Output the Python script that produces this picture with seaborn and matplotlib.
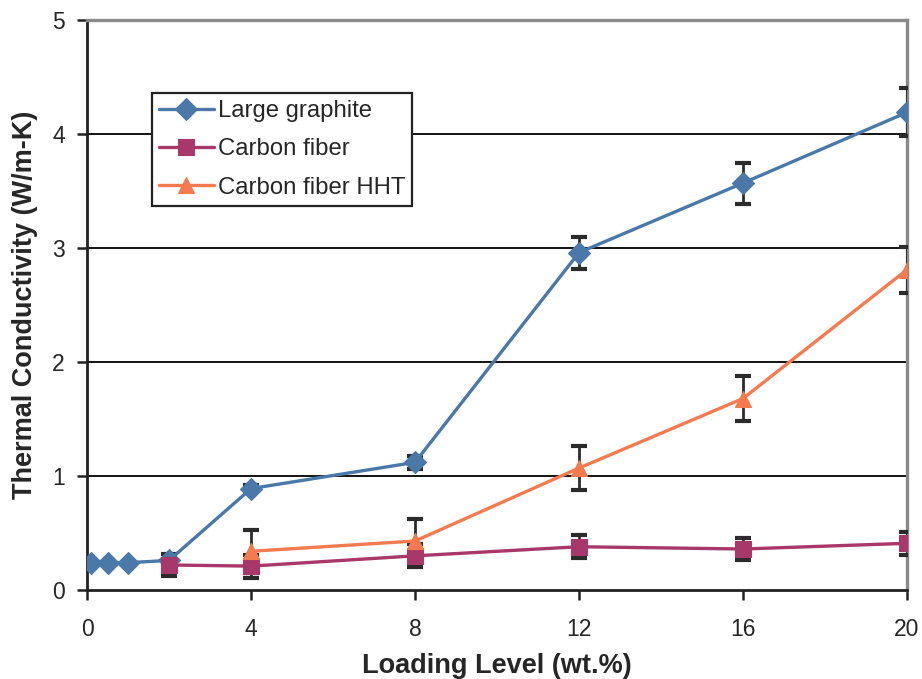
import matplotlib
matplotlib.use("Agg")
import matplotlib.pyplot as plt
import seaborn as sns
import pandas as pd

# Loading levels (wt.%) and measured thermal conductivity (W/m-K)
graphite_x = [0.1, 0.5, 1, 2, 4, 8, 12, 16, 20]
graphite_y = [0.24, 0.24, 0.24, 0.26, 0.89, 1.12, 2.96, 3.57, 4.19]
graphite_err = [0.0, 0.0, 0.0, 0.0, 0.03, 0.06, 0.14, 0.18, 0.21]

fiber_x = [2, 4, 8, 12, 16, 20]
fiber_y = [0.22, 0.21, 0.30, 0.38, 0.36, 0.41]
fiber_err = [0.10, 0.10, 0.10, 0.10, 0.10, 0.10]

hht_x = [4, 8, 12, 16, 20]
hht_y = [0.34, 0.43, 1.07, 1.68, 2.81]
hht_err = [0.19, 0.19, 0.19, 0.20, 0.20]

labels = ["Large graphite", "Carbon fiber", "Carbon fiber HHT"]
colors = ["#4A78A8", "#A8386A", "#F47A50"]
markers = ["D", "s", "^"]

frames = []
for lab, xs, ys, es in [(labels[0], graphite_x, graphite_y, graphite_err),
                        (labels[1], fiber_x, fiber_y, fiber_err),
                        (labels[2], hht_x, hht_y, hht_err)]:
    frames.append(pd.DataFrame({"load": xs, "k": ys, "err": es, "series": lab}))
df = pd.concat(frames, ignore_index=True)

sns.set_style("white")
plt.rcParams["font.family"] = ["Liberation Sans", "DejaVu Sans"]

fig = plt.figure(figsize=(9.22, 6.79), dpi=100)
ax = fig.add_axes([0.0944, 0.131, 0.8893, 0.8395])

# error bars underneath the markers
for lab in labels:
    sub = df[df["series"] == lab]
    sub = sub[sub["err"] > 0]
    ax.errorbar(sub["load"], sub["k"], yerr=sub["err"], fmt="none",
                ecolor="#2b2b2b", elinewidth=2.0, capsize=5.5, capthick=3.0,
                zorder=3)

sns.lineplot(data=df, x="load", y="k", hue="series", style="series",
             hue_order=labels, style_order=labels,
             palette=dict(zip(labels, colors)),
             markers=dict(zip(labels, markers)), dashes=False,
             markersize=11, linewidth=2.4, markeredgewidth=0.8,
             sort=False, estimator=None, ax=ax, zorder=4)
for ln in ax.get_lines():
    if ln.get_marker() in markers:
        ln.set_markeredgecolor(ln.get_color())

ax.set_xlim(0, 20)
ax.set_ylim(0, 5)
ax.set_xticks([0, 4, 8, 12, 16, 20])
ax.set_yticks([0, 1, 2, 3, 4, 5])

# horizontal gridlines at 1..4
for yv in [1, 2, 3, 4]:
    ax.axhline(yv, color="black", linewidth=1.3, zorder=1)

for side in ["left", "bottom"]:
    ax.spines[side].set_color("#222222")
    ax.spines[side].set_linewidth(2.0)
for side in ["top", "right"]:
    ax.spines[side].set_color("#8a8a8a")
    ax.spines[side].set_linewidth(2.4)

ax.tick_params(axis="both", which="major", direction="out", length=7,
               width=1.8, color="#222222", labelsize=16.5, pad=9,
               bottom=True, left=True)
ax.tick_params(axis="x", pad=13)

ax.set_xlabel("Loading Level (wt.%)", fontsize=19.5, fontweight="bold",
              labelpad=9)
ax.set_ylabel("Thermal Conductivity (W/m-K)", fontsize=19.5,
              fontweight="bold", labelpad=10)

leg = ax.legend(loc="upper left", bbox_to_anchor=(0.079, 0.872),
                fontsize=17.2, frameon=True, fancybox=False,
                edgecolor="#222222", framealpha=1, borderpad=0.3,
                handlelength=2.3, handletextpad=0.15, labelspacing=0.68,
                borderaxespad=0)
leg.get_frame().set_linewidth(1.6)
leg.set_zorder(10)

fig.savefig("out.png", dpi=100, facecolor="white")
